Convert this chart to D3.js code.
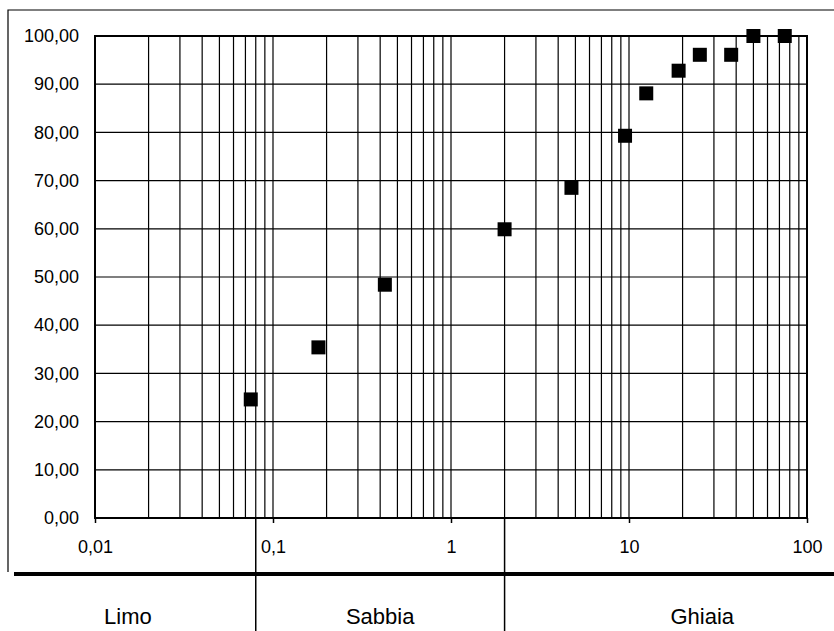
<!DOCTYPE html>
<html>
<head>
<meta charset="utf-8">
<script src="https://cdn.jsdelivr.net/npm/d3@7"></script>
<style>
  body { margin: 0; background: #fff; }
  svg { display: block; font-family: "Liberation Sans", Arial, sans-serif; }
  .grid line { stroke: #000; stroke-width: 1.2; }
</style>
</head>
<body>
<svg id="chart" width="834" height="631"></svg>
<script>
// Granulometric curve - sieve diameter (mm) vs passing (%)
const diameters = [0.075, 0.18, 0.425, 2, 4.75, 9.5, 12.5, 19, 25, 37.5, 50, 75];
const passing = [24.6, 35.4, 48.4, 59.9, 68.5, 79.3, 88.1, 92.8, 96.1, 96.1, 100, 100];

// x tick labels (decades)
const xTicks = [0.01, 0.1, 1, 10, 100];
const xTickLabels = ['0,01', '0,1', '1', '10', '100'];
const yTicks = [0, 10, 20, 30, 40, 50, 60, 70, 80, 90, 100];

// Soil fractions below the chart
const boundaries = [0.08, 2];
const fractions = ['Limo', 'Sabbia', 'Ghiaia'];

const svg = d3.select('#chart');
const W = 834, H = 631;
const plot = { left: 95, right: 807, top: 36, bottom: 518 };

svg.append('rect').attr('width', W).attr('height', H).attr('fill', '#fff');

const x = d3.scaleLog().domain([0.01, 100]).range([plot.left, plot.right]);
const y = d3.scaleLinear().domain([0, 100]).range([plot.bottom, plot.top]);

// outer frame (left + top) and thick separator line
svg.append('path')
  .attr('d', `M8,572 L8,10 L${W},10`)
  .attr('fill', 'none').attr('stroke', '#000').attr('stroke-width', 1.2);
svg.append('line')
  .attr('x1', 14).attr('x2', W).attr('y1', 574).attr('y2', 574)
  .attr('stroke', '#000').attr('stroke-width', 4);

// vertical grid (log minor lines)
const grid = svg.append('g').attr('class', 'grid');
grid.selectAll('line.v')
  .data(x.ticks())
  .enter().append('line')
  .attr('class', 'v')
  .attr('x1', d => x(d)).attr('x2', d => x(d))
  .attr('y1', plot.top).attr('y2', plot.bottom);

// horizontal grid
grid.selectAll('line.h')
  .data(yTicks)
  .enter().append('line')
  .attr('class', 'h')
  .attr('x1', plot.left).attr('x2', plot.right)
  .attr('y1', d => y(d)).attr('y2', d => y(d));

// plot frame
svg.append('rect')
  .attr('x', plot.left).attr('y', plot.top)
  .attr('width', plot.right - plot.left).attr('height', plot.bottom - plot.top)
  .attr('fill', 'none').attr('stroke', '#000').attr('stroke-width', 2);

// x axis
const xAxis = d3.axisBottom(x)
  .tickValues(xTicks)
  .tickSize(5)
  .tickPadding(17)
  .tickFormat((d, i) => xTickLabels[i]);
svg.append('g')
  .attr('transform', `translate(0,${plot.bottom})`)
  .call(xAxis)
  .call(g => g.select('.domain').remove())
  .call(g => g.selectAll('line').attr('stroke', '#000').attr('stroke-width', 1.5))
  .call(g => g.selectAll('text').attr('font-size', 18).attr('fill', '#000')
    .attr('font-family', '"Liberation Sans", Arial, sans-serif'));

// y axis
const yAxis = d3.axisLeft(y)
  .tickValues(yTicks)
  .tickSize(0)
  .tickPadding(16)
  .tickFormat(d => d3.format('.2f')(d).replace('.', ','));
svg.append('g')
  .attr('transform', `translate(${plot.left},0)`)
  .call(yAxis)
  .call(g => g.select('.domain').remove())
  .call(g => g.selectAll('text').attr('font-size', 18).attr('fill', '#000')
    .attr('font-family', '"Liberation Sans", Arial, sans-serif'));

// fraction division lines
svg.selectAll('line.division')
  .data(boundaries)
  .enter().append('line')
  .attr('class', 'division')
  .attr('x1', d => x(d)).attr('x2', d => x(d))
  .attr('y1', plot.bottom).attr('y2', H)
  .attr('stroke', '#000').attr('stroke-width', 1.5);

// fraction labels, centred between the edges
const edges = [0, x(boundaries[0]), x(boundaries[1]), 900];
svg.selectAll('text.fraction')
  .data(fractions)
  .enter().append('text')
  .attr('class', 'fraction')
  .attr('x', (d, i) => (edges[i] + edges[i + 1]) / 2)
  .attr('y', 624)
  .attr('text-anchor', 'middle')
  .attr('font-size', 22)
  .text(d => d);

// data markers
const size = 14;
svg.append('g')
  .selectAll('rect')
  .data(diameters.map((d, i) => ({ d, p: passing[i] })))
  .enter().append('rect')
  .attr('x', v => x(v.d) - size / 2)
  .attr('y', v => y(v.p) - size / 2)
  .attr('width', size).attr('height', size)
  .attr('fill', '#000');
</script>
</body>
</html>
